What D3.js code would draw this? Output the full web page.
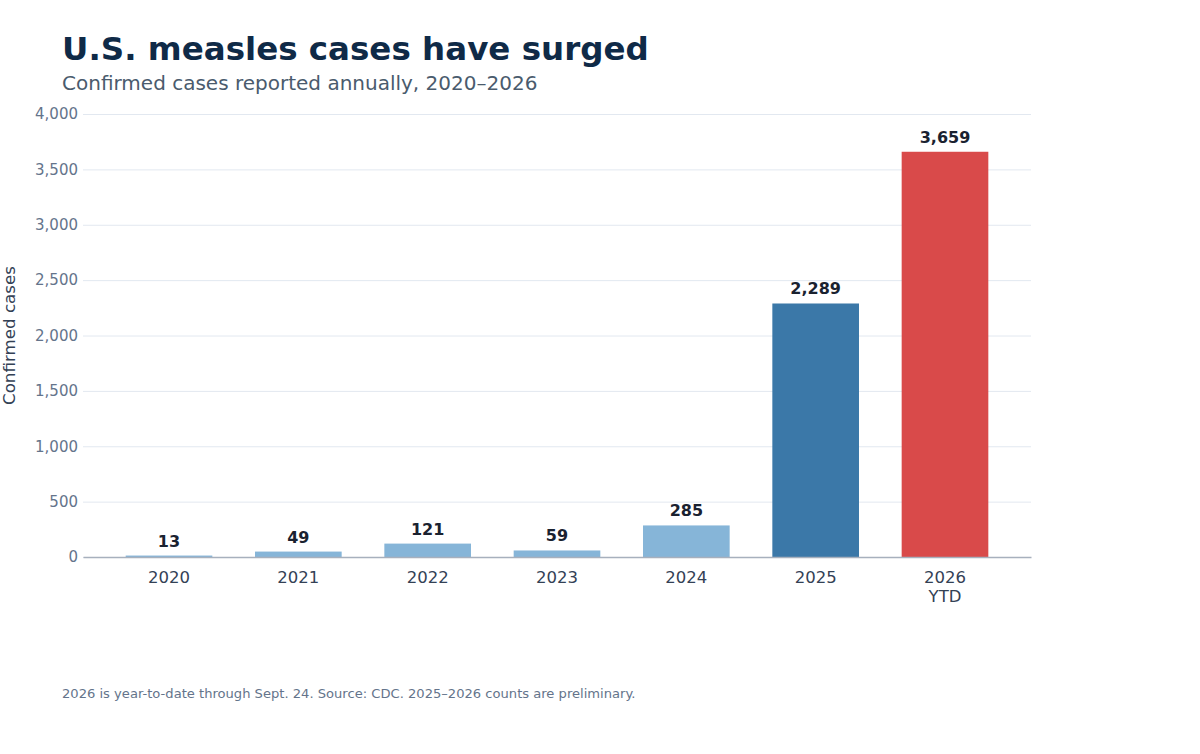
<!DOCTYPE html>
<html>
<head>
<meta charset="utf-8">
<script src="https://cdn.jsdelivr.net/npm/d3@7"></script>
<style>
  html, body { margin: 0; padding: 0; background: #fff; }
  svg { display: block; font-family: "DejaVu Sans", sans-serif; }
</style>
</head>
<body>
<svg id="chart" width="1200" height="754"></svg>
<script>
const years = ["2020", "2021", "2022", "2023", "2024", "2025", "2026"];
const yearSubLabels = ["", "", "", "", "", "", "YTD"];
const cases = [13, 49, 121, 59, 285, 2289, 3659];
const barColors = ["#86b5d8", "#86b5d8", "#86b5d8", "#86b5d8", "#86b5d8", "#3b78a8", "#d94a4a"];
const yTicks = [0, 500, 1000, 1500, 2000, 2500, 3000, 3500, 4000];

const svg = d3.select("#chart");
const margin = { left: 83, right: 1031, top: 114, bottom: 557 };

const x = d3.scaleBand().domain(years).range([margin.left, margin.right]).padding(0.33);
const y = d3.scaleLinear().domain([0, 4000]).range([margin.bottom, margin.top]);

// Title
svg.append("text").attr("x", 62).attr("y", 60)
  .attr("font-size", 32.5).attr("font-weight", "bold").attr("fill", "#0f2a47")
  .text("U.S. measles cases have surged");
svg.append("text").attr("x", 62).attr("y", 90)
  .attr("font-size", 20).attr("fill", "#4a5b6d")
  .text("Confirmed cases reported annually, 2020–2026");

// Grid + y axis
const yAxis = d3.axisLeft(y).tickValues(yTicks).tickFormat(d3.format(",")).tickSize(-(margin.right - margin.left)).tickPadding(5);
const gy = svg.append("g").attr("transform", `translate(${margin.left},0)`).call(yAxis);
gy.select(".domain").remove();
gy.selectAll(".tick line").attr("stroke", "#e2e8f0").attr("stroke-width", 1);
gy.selectAll(".tick text").attr("font-size", 15).attr("fill", "#64748b").attr("font-family", "DejaVu Sans, sans-serif");

// Bars
svg.append("g").selectAll("rect").data(cases).join("rect")
  .attr("x", (d, i) => x(years[i]))
  .attr("width", x.bandwidth())
  .attr("y", d => y(d))
  .attr("height", d => y(0) - y(d))
  .attr("fill", (d, i) => barColors[i]);

// Value labels
svg.append("g").selectAll("text").data(cases).join("text")
  .attr("x", (d, i) => x(years[i]) + x.bandwidth() / 2)
  .attr("y", d => y(d) - 9)
  .attr("text-anchor", "middle")
  .attr("font-size", 16).attr("font-weight", "bold").attr("fill", "#1a2230")
  .text(d => d3.format(",")(d));

// X axis
const xAxis = d3.axisBottom(x).tickSize(0).tickPadding(14);
const gx = svg.append("g").attr("transform", `translate(0,${margin.bottom})`).call(xAxis);
gx.select(".domain").attr("stroke", "#a7b0bd").attr("stroke-width", 1.5);
gx.selectAll(".tick text").attr("font-size", 16.5).attr("fill", "#334155").attr("font-family", "DejaVu Sans, sans-serif");
gx.selectAll(".tick text").each(function(d, i) {
  const sub = yearSubLabels[years.indexOf(d)];
  if (sub) {
    d3.select(this).append("tspan").attr("x", 0).attr("dy", "1.15em").text(sub);
  }
});

// Y axis label
svg.append("text")
  .attr("transform", `translate(15,${(margin.top + margin.bottom) / 2}) rotate(-90)`)
  .attr("text-anchor", "middle")
  .attr("font-size", 16.7).attr("fill", "#334155")
  .text("Confirmed cases");

// Footer
svg.append("text").attr("x", 62).attr("y", 698)
  .attr("font-size", 13.1).attr("fill", "#64748b")
  .text("2026 is year-to-date through Sept. 24. Source: CDC. 2025–2026 counts are preliminary.");
</script>
</body>
</html>
